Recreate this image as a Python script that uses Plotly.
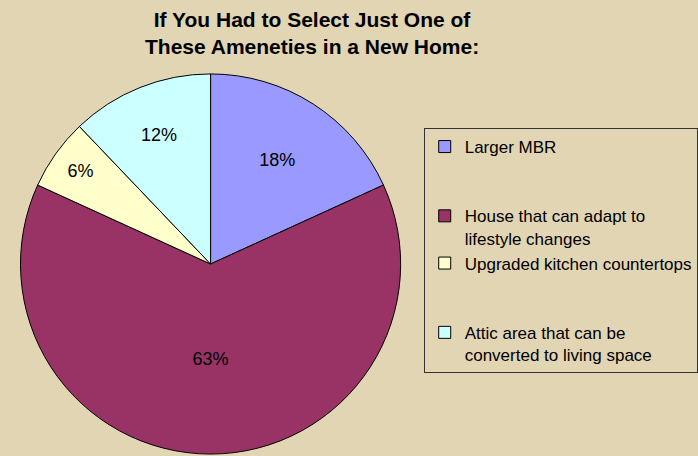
import plotly.graph_objects as go

labels = ["Larger MBR<br> <br> ", "House that can adapt to<br>lifestyle changes",
          "Upgraded kitchen countertops<br> <br> ",
          "Attic area that can be<br>converted to living space"]
values = [18, 63, 6, 12]
colors = ["#9999FF", "#993366", "#FFFFCC", "#CCFFFF"]
title_text = "<b>If You Had to Select Just One of<br>These Ameneties in a New Home:</b>"

BG = "rgb(226,213,180)"
W, H = 698, 456
cx, cy, R = 212.7, 264, 192

fig = go.Figure(go.Pie(
    labels=labels, values=values, sort=False, direction="clockwise", rotation=0,
    marker=dict(colors=colors, line=dict(color="black", width=1)),
    texttemplate="%{value}%", textposition="inside", insidetextorientation="horizontal",
    textfont=dict(family="Liberation Sans, Arial", size=18, color="black"),
    domain=dict(x=[(cx - R) / W, (cx + R) / W], y=[(H - cy - R) / H, (H - cy + R) / H]),
    hoverinfo="percent",
))

fig.update_layout(
    width=W, height=H, margin=dict(l=0, r=0, t=0, b=0),
    paper_bgcolor=BG, plot_bgcolor=BG,
    font=dict(family="Liberation Sans, Arial", color="black"),
    legend=dict(x=428 / W, xanchor="left", y=1 - 128 / H, yanchor="top",
                bgcolor=BG, bordercolor="#333333", borderwidth=1,
                font=dict(size=17, color="black"), valign="top",
                tracegroupgap=0),
    showlegend=True,
    annotations=[dict(text=title_text, x=315 / W, xref="paper", xanchor="center",
                      y=1 - 6 / H, yref="paper", yanchor="top", showarrow=False,
                      font=dict(size=21, color="black"))],
)

fig.write_html("out.html", config={"displayModeBar": False},
               post_script="document.body.style.margin='0px';")
